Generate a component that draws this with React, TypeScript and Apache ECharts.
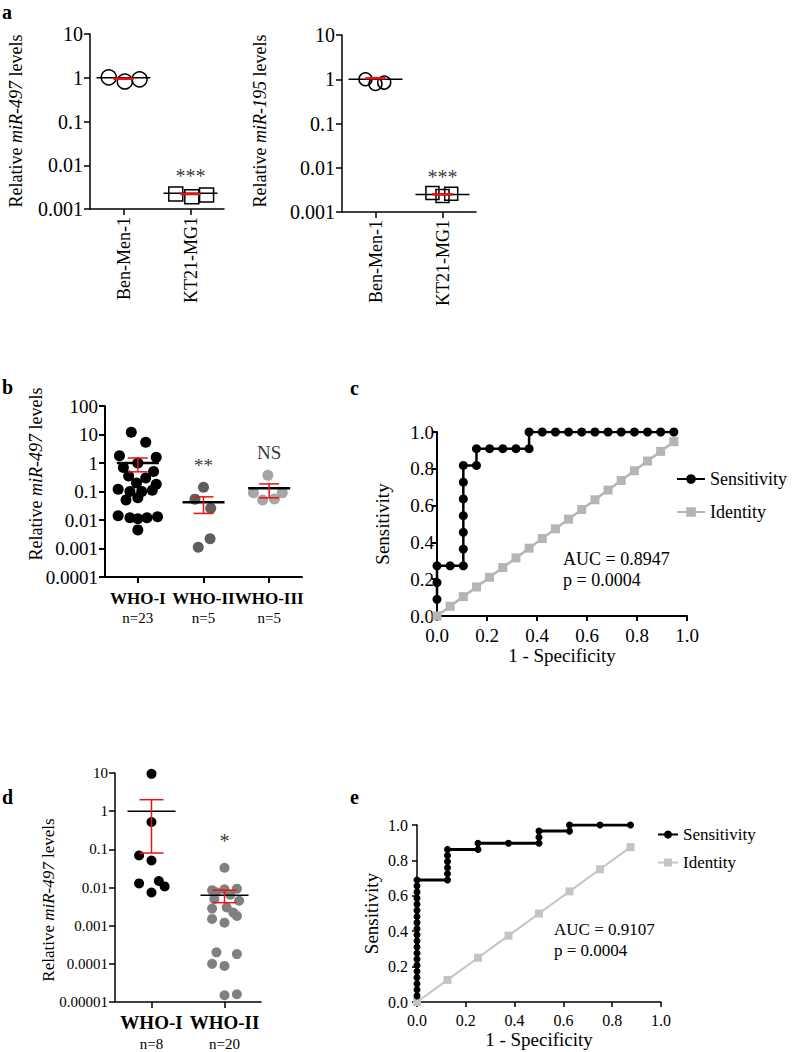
import React, { useEffect, useRef } from 'react';
import * as echarts from 'echarts';

const FONT = "'Liberation Serif', 'Times New Roman', Times, serif";
const RED = '#ee1111';

// ---------------- Panel a ----------------
const aCategories = ['Ben-Men-1', 'KT21-MG1'];
const aYTicks = ['0.001', '0.01', '0.1', '1', '10']; // exponents -3..1
const a497Ben = [1.02, 0.82, 0.92];
const a497KT = [0.0022, 0.0019, 0.0021];
const a497Mean = [1.0, 0.0023];
const a497SemLo = [0.94, 0.00217];
const a497SemHi = [0.96, 0.00222];
const a195Ben = [1.0, 0.78, 0.84];
const a195KT = [0.0027, 0.0023, 0.0026];
const a195Mean = [1.0, 0.0025];
const a195SemLo = [1.04, 0.00245];
const a195SemHi = [1.06, 0.00255];
const a497Jitter = [-0.22, 0.02, 0.24];
const a195Jitter = [-0.15, 0.0, 0.13];
const aMarks = ['', '***'];
const a497MarkAt = [1, 0.0058];
const a195MarkAt = [1, 0.0062];

// ---------------- Panel b ----------------
const bCategories = ['WHO-I', 'WHO-II', 'WHO-III'];
const bCounts = ['n=23', 'n=5', 'n=5'];
const bYTicks = ['0.0001', '0.001', '0.01', '0.1', '1', '10', '100']; // -4..2
const bWho1 = [12, 5.3, 1.8, 1.6, 1.0, 0.7, 0.5, 0.35, 0.3, 0.2, 0.18, 0.12, 0.11, 0.1, 0.1, 0.06, 0.05, 0.014, 0.013, 0.012, 0.012, 0.011, 0.0045];
const bWho1Jitter = [-0.1, 0.12, -0.28, 0.28, 0.0, -0.22, 0.24, -0.14, 0.12, -0.02, 0.28, -0.3, 0.22, -0.12, 0.06, 0.0, -0.18, -0.3, 0.3, -0.12, 0.14, 0.0, 0.0];
const bWho2 = [0.14, 0.054, 0.026, 0.0022, 0.0011];
const bWho2Jitter = [0.0, -0.13, 0.11, 0.1, -0.08];
const bWho3 = [0.37, 0.09, 0.09, 0.05, 0.055];
const bWho3Jitter = [-0.02, -0.24, 0.2, -0.1, 0.08];
const bMean = [1.0, 0.042, 0.13];
const bSemLo = [0.49, 0.017, 0.06];
const bSemHi = [1.5, 0.065, 0.185];
const bMarks = ['', '**', 'NS'];
const bMarkAt = [1, 0.85, 2.3];

// ---------------- Panel c ----------------
const cFpr = [0, 0, 0, 0.0526, 0.1053, 0.1053, 0.1053, 0.1053, 0.1053, 0.1053, 0.1053, 0.1579, 0.1579, 0.2105, 0.2632, 0.3158, 0.3684, 0.3684, 0.4211, 0.4737, 0.5263, 0.5789, 0.6316, 0.6842, 0.7368, 0.7895, 0.8421, 0.8947, 0.9474];
const cTpr = [0.0909, 0.1818, 0.2727, 0.2727, 0.2727, 0.3636, 0.4545, 0.5455, 0.6364, 0.7273, 0.8182, 0.8182, 0.9091, 0.9091, 0.9091, 0.9091, 0.9091, 1, 1, 1, 1, 1, 1, 1, 1, 1, 1, 1, 1];
const cIdentity = [0, 0.0526, 0.1053, 0.1579, 0.2105, 0.2632, 0.3158, 0.3684, 0.4211, 0.4737, 0.5263, 0.5789, 0.6316, 0.6842, 0.7368, 0.7895, 0.8421, 0.8947, 0.9474];
const cStats = ['AUC = 0.8947', 'p = 0.0004'];

// ---------------- Panel d ----------------
const dCategories = ['WHO-I', 'WHO-II'];
const dCounts = ['n=8', 'n=20'];
const dYTicks = ['0.00001', '0.0001', '0.001', '0.01', '0.1', '1', '10']; // -5..1
const dWho1 = [9.5, 0.52, 0.069, 0.051, 0.0128, 0.0148, 0.0107, 0.0074];
const dWho1Jitter = [0, 0, -0.17, 0, -0.17, 0.1, 0.18, 0];
const dWho2 = [0.033, 0.0085, 0.009, 0.0093, 0.0075, 0.0065, 0.005, 0.0045, 0.0028, 0.003, 0.0022, 0.0018, 0.0015, 0.0012, 0.0002, 0.00018, 0.0001, 0.000088, 0.000016, 0.000015];
const dWho2Jitter = [0, -0.17, 0, 0.17, -0.11, 0.08, -0.14, 0.2, -0.17, 0.03, 0.12, 0.17, -0.17, 0, -0.11, 0.17, -0.17, 0, 0.17, 0];
const dMean = [1.0, 0.0063];
const dSemLo = [0.08, 0.004];
const dSemHi = [2.0, 0.0085];
const dMarks = ['', '*'];
const dMarkAt = [1, 0.17];

// ---------------- Panel e ----------------
const eFpr = [0, 0, 0, 0, 0, 0, 0, 0, 0, 0, 0, 0, 0, 0, 0, 0, 0, 0, 0, 0, 0.125, 0.125, 0.125, 0.125, 0.125, 0.125, 0.25, 0.25, 0.375, 0.5, 0.5, 0.5, 0.625, 0.625, 0.75, 0.875];
const eTpr = [0.0345, 0.069, 0.1034, 0.1379, 0.1724, 0.2069, 0.2414, 0.2759, 0.3103, 0.3448, 0.3793, 0.4138, 0.4483, 0.4828, 0.5172, 0.5517, 0.5862, 0.6207, 0.6552, 0.6897, 0.6897, 0.7241, 0.7586, 0.7931, 0.8276, 0.8621, 0.8621, 0.8966, 0.8966, 0.8966, 0.931, 0.9655, 0.9655, 1, 1, 1];
const eIdentity = [0, 0.125, 0.25, 0.375, 0.5, 0.625, 0.75, 0.875];
const eStats = ['AUC = 0.9107', 'p = 0.0004'];

// ---------------- helpers ----------------
const black = '#000';

function logLabel(ticks: string[], minExp: number) {
  return (v: number) => {
    const e = Math.round(Math.log10(v));
    return ticks[e - minExp] ?? '';
  };
}

function logYAxis(gridIndex: number, min: number, max: number, ticks: string[], minExp: number, fontSize: number, margin: number, lw: number) {
  return {
    gridIndex,
    type: 'log',
    logBase: 10,
    min,
    max,
    axisLine: { show: true, onZero: false, lineStyle: { color: black, width: lw } },
    axisTick: { show: true, length: 6, lineStyle: { color: black, width: lw } },
    minorTick: { show: false },
    splitLine: { show: false },
    axisLabel: { formatter: logLabel(ticks, minExp), fontFamily: FONT, fontSize, color: black, margin, showMinLabel: true, showMaxLabel: true, hideOverlap: false },
  };
}

// visible category axis: ticks and labels at each group
function catAxis(gridIndex: number, cats: string[], labelCfg: any, lw: number, formatter?: (v: string, i: number) => string) {
  return {
    gridIndex,
    type: 'category',
    data: cats,
    boundaryGap: true,
    axisLine: { show: true, onZero: false, lineStyle: { color: black, width: lw } },
    axisTick: { show: true, alignWithLabel: true, interval: 0, length: 6, lineStyle: { color: black, width: lw } },
    splitLine: { show: false },
    axisLabel: {
      show: true,
      interval: 0,
      hideOverlap: false,
      fontFamily: FONT,
      color: black,
      ...(formatter ? { formatter } : {}),
      ...labelCfg,
    },
  };
}

// hidden value axis in the same grid, used to place jittered marks
function hiddenX(gridIndex: number, n: number) {
  return {
    gridIndex,
    type: 'value',
    min: 0,
    max: n,
    show: false,
    axisLine: { show: false, onZero: false },
    splitLine: { show: false },
  };
}

function points(xi: number, yi: number, center: number, values: number[], jitter: number[], symbol: string, size: number, fill: string, stroke: string, bw: number) {
  return {
    type: 'scatter',
    xAxisIndex: xi,
    yAxisIndex: yi,
    symbol,
    symbolSize: size,
    itemStyle: { color: fill, borderColor: stroke, borderWidth: bw, opacity: 1 },
    data: values.map((v, i) => [center + jitter[i], v]),
    z: 3,
    silent: true,
  };
}

function semBars(xi: number, yi: number, mean: number[], lo: number[], hi: number[], cfg: { meanHalf: number; meanW: number; capHalf: number; errW: number }) {
  return {
    type: 'custom',
    xAxisIndex: xi,
    yAxisIndex: yi,
    z: 5,
    silent: true,
    encode: { x: 0, y: 1 },
    data: mean.map((m, i) => [i + 0.5, m, lo[i], hi[i]]),
    renderItem: (params: any, api: any) => {
      const cx = api.value(0);
      const pm = api.coord([cx, api.value(1)]);
      const pl = api.coord([cx, api.value(2)]);
      const ph = api.coord([cx, api.value(3)]);
      return {
        type: 'group',
        children: [
          { type: 'line', shape: { x1: pm[0] - cfg.meanHalf, y1: pm[1], x2: pm[0] + cfg.meanHalf, y2: pm[1] }, style: { stroke: black, lineWidth: cfg.meanW } },
          { type: 'line', shape: { x1: pl[0], y1: pl[1], x2: ph[0], y2: ph[1] }, style: { stroke: RED, lineWidth: cfg.errW } },
          { type: 'line', shape: { x1: pl[0] - cfg.capHalf, y1: pl[1], x2: pl[0] + cfg.capHalf, y2: pl[1] }, style: { stroke: RED, lineWidth: cfg.errW } },
          { type: 'line', shape: { x1: ph[0] - cfg.capHalf, y1: ph[1], x2: ph[0] + cfg.capHalf, y2: ph[1] }, style: { stroke: RED, lineWidth: cfg.errW } },
        ],
      };
    },
  };
}

function marks(xi: number, yi: number, texts: string[], at: number[], fontSize: number) {
  const data: any[] = [];
  texts.forEach((t, i) => {
    if (t) data.push({ name: t, value: [i + 0.5, at[i]] });
  });
  return {
    type: 'scatter',
    xAxisIndex: xi,
    yAxisIndex: yi,
    symbolSize: 1,
    itemStyle: { color: 'rgba(0,0,0,0)' },
    silent: true,
    z: 6,
    label: { show: true, position: 'inside', formatter: '{b}', fontFamily: FONT, fontSize, color: black },
    data,
  };
}

function rocAxes(gridIndex: number, fontSize: number, xMargin: number, yMargin: number, lw: number, xName: string, xNameGap: number, yNameGap: number, nameSize: number) {
  const common = {
    gridIndex,
    type: 'value',
    min: 0,
    max: 1,
    interval: 0.2,
    splitLine: { show: false },
    axisLine: { show: true, onZero: false, lineStyle: { color: black, width: lw } },
    axisTick: { show: true, length: 5, lineStyle: { color: black, width: lw } },
  };
  return {
    x: {
      ...common,
      name: xName,
      nameLocation: 'middle',
      nameGap: xNameGap,
      nameTextStyle: { fontFamily: FONT, fontSize: nameSize, color: black },
      axisLabel: { formatter: (v: number) => v.toFixed(1), fontFamily: FONT, fontSize, color: black, margin: xMargin },
    },
    y: {
      ...common,
      name: 'Sensitivity',
      nameLocation: 'middle',
      nameGap: yNameGap,
      nameTextStyle: { fontFamily: FONT, fontSize: nameSize, color: black },
      axisLabel: { formatter: (v: number) => v.toFixed(1), fontFamily: FONT, fontSize, color: black, margin: yMargin },
    },
  };
}

function yTitle(x: number, y: number, gene: string, size: number) {
  return {
    type: 'text',
    x,
    y,
    rotation: Math.PI / 2,
    silent: true,
    style: {
      text: 'Relative {i|' + gene + '} levels',
      fontFamily: FONT,
      fontSize: size,
      fill: black,
      align: 'center',
      verticalAlign: 'middle',
      rich: { i: { fontStyle: 'italic', fontFamily: FONT, fontSize: size, fill: black } },
    },
  };
}

function plainText(x: number, y: number, text: string, size: number, bold = false, align = 'left') {
  return {
    type: 'text',
    x,
    y,
    silent: true,
    style: { text, fontFamily: FONT, fontSize: size, fontWeight: bold ? 'bold' : 'normal', fill: black, align, verticalAlign: 'middle' },
  };
}

export default function App() {
  const ref = useRef<HTMLDivElement>(null);

  useEffect(() => {
    if (!ref.current) return;
    const chart = echarts.init(ref.current, undefined, { renderer: 'svg' });

    const rocC = rocAxes(3, 19, 10, 3, 2, '1 - Specificity', 28, 45, 19);
    const rocE = rocAxes(5, 16, 10, 9, 1.5, '1 - Specificity', 28, 36, 19);

    const whoFmt = (counts: string[]) => (v: string, i: number) => '{w|' + v + '}\n{n|' + counts[i] + '}';

    // x axis indices: 0..5 visible axes per grid, 6..9 hidden value axes for marks
    const option: any = {
      animation: false,
      backgroundColor: '#ffffff',
      grid: [
        { left: 90, top: 34, width: 134, height: 175, outerBoundsMode: 'none' },
        { left: 342, top: 35, width: 134, height: 177, outerBoundsMode: 'none' },
        { left: 105, top: 406, width: 197, height: 171, outerBoundsMode: 'none' },
        { left: 437, top: 432, width: 250, height: 184, outerBoundsMode: 'none' },
        { left: 115, top: 773, width: 146, height: 229, outerBoundsMode: 'none' },
        { left: 417, top: 825, width: 244, height: 177, outerBoundsMode: 'none' },
      ],
      xAxis: [
        catAxis(0, aCategories, { rotate: 90, fontSize: 18, margin: 8 }, 1.5),
        catAxis(1, aCategories, { rotate: 90, fontSize: 18, margin: 8 }, 1.5),
        catAxis(2, bCategories, {
          margin: 12,
          rich: {
            w: { fontFamily: FONT, fontWeight: 'bold', fontSize: 17, lineHeight: 19, color: black },
            n: { fontFamily: FONT, fontSize: 15, lineHeight: 19, color: black },
          },
        }, 2, whoFmt(bCounts)),
        rocC.x,
        catAxis(4, dCategories, {
          margin: 10,
          rich: {
            w: { fontFamily: FONT, fontWeight: 'bold', fontSize: 19, lineHeight: 21, color: black },
            n: { fontFamily: FONT, fontSize: 15, lineHeight: 21, color: black },
          },
        }, 1.5, whoFmt(dCounts)),
        rocE.x,
        hiddenX(0, 2),
        hiddenX(1, 2),
        hiddenX(2, 3),
        hiddenX(4, 2),
      ],
      yAxis: [
        logYAxis(0, 0.001, 10, aYTicks, -3, 20, 7, 1.5),
        logYAxis(1, 0.001, 10, aYTicks, -3, 20, 7, 1.5),
        logYAxis(2, 0.0001, 100, bYTicks, -4, 19, 7, 2),
        rocC.y,
        logYAxis(4, 0.00001, 10, dYTicks, -5, 15, 7, 1.5),
        rocE.y,
      ],
      legend: [
        {
          left: 671,
          top: 465,
          orient: 'vertical',
          itemWidth: 28,
          itemHeight: 12,
          itemGap: 15,
          data: ['Sensitivity', 'Identity'],
          textStyle: { fontFamily: FONT, fontSize: 18, color: black },
          selectedMode: false,
        },
        {
          left: 652,
          top: 821,
          orient: 'vertical',
          itemWidth: 20,
          itemHeight: 10,
          itemGap: 11,
          data: ['Sensitivity (e)', 'Identity (e)'],
          formatter: (n: string) => n.replace(' (e)', ''),
          textStyle: { fontFamily: FONT, fontSize: 17, color: black },
          selectedMode: false,
        },
      ],
      series: [
        // panel a, miR-497
        points(6, 0, 0.5, a497Ben, a497Jitter, 'circle', 15, 'rgba(255,255,255,0)', black, 1.5),
        points(6, 0, 1.5, a497KT, a497Jitter, 'rect', 14, 'rgba(255,255,255,0)', black, 1.5),
        semBars(6, 0, a497Mean, a497SemLo, a497SemHi, { meanHalf: 27, meanW: 1.5, capHalf: 10, errW: 2 }),
        marks(6, 0, aMarks, a497MarkAt, 20),
        // panel a, miR-195
        points(7, 1, 0.5, a195Ben, a195Jitter, 'circle', 13, 'rgba(255,255,255,0)', black, 1.5),
        points(7, 1, 1.5, a195KT, a195Jitter, 'rect', 13, 'rgba(255,255,255,0)', black, 1.5),
        semBars(7, 1, a195Mean, a195SemLo, a195SemHi, { meanHalf: 27, meanW: 1.5, capHalf: 10, errW: 2 }),
        marks(7, 1, aMarks, a195MarkAt, 20),
        // panel b
        points(8, 2, 0.5, bWho1, bWho1Jitter, 'circle', 11, '#000000', '#000000', 0),
        points(8, 2, 1.5, bWho2, bWho2Jitter, 'circle', 11, '#5e5e5e', '#5e5e5e', 0),
        points(8, 2, 2.5, bWho3, bWho3Jitter, 'circle', 11, '#a6a6a6', '#a6a6a6', 0),
        semBars(8, 2, bMean, bSemLo, bSemHi, { meanHalf: 21, meanW: 2.5, capHalf: 10, errW: 1.5 }),
        marks(8, 2, bMarks, bMarkAt, 19),
        // panel c
        {
          name: 'Identity',
          type: 'line',
          xAxisIndex: 3,
          yAxisIndex: 3,
          symbol: 'rect',
          symbolSize: 9,
          color: '#b5b5b5',
          lineStyle: { color: '#b5b5b5', width: 2.5 },
          itemStyle: { color: '#b5b5b5' },
          data: cIdentity.map((v) => [v, v]),
          silent: true,
        },
        {
          name: 'Sensitivity',
          type: 'line',
          xAxisIndex: 3,
          yAxisIndex: 3,
          symbol: 'circle',
          symbolSize: 9,
          color: '#000',
          lineStyle: { color: '#000', width: 2.5 },
          itemStyle: { color: '#000' },
          data: cFpr.map((x, i) => [x, cTpr[i]]),
          silent: true,
          z: 4,
        },
        // panel d
        points(9, 4, 0.5, dWho1, dWho1Jitter, 'circle', 10, '#000000', '#000000', 0),
        points(9, 4, 1.5, dWho2, dWho2Jitter, 'circle', 10, '#808080', '#808080', 0),
        semBars(9, 4, dMean, dSemLo, dSemHi, { meanHalf: 24, meanW: 1.5, capHalf: 12, errW: 1.5 }),
        marks(9, 4, dMarks, dMarkAt, 20),
        // panel e
        {
          name: 'Identity (e)',
          type: 'line',
          xAxisIndex: 5,
          yAxisIndex: 5,
          symbol: 'rect',
          symbolSize: 8,
          color: '#c4c4c4',
          lineStyle: { color: '#c4c4c4', width: 2 },
          itemStyle: { color: '#c4c4c4' },
          data: eIdentity.map((v) => [v, v]),
          silent: true,
        },
        {
          name: 'Sensitivity (e)',
          type: 'line',
          xAxisIndex: 5,
          yAxisIndex: 5,
          symbol: 'circle',
          symbolSize: 7,
          color: '#000',
          lineStyle: { color: '#000', width: 3 },
          itemStyle: { color: '#000' },
          data: eFpr.map((x, i) => [x, eTpr[i]]),
          silent: true,
          z: 4,
        },
      ],
      graphic: [
        plainText(2, 12, 'a', 20, true),
        plainText(2, 387, 'b', 20, true),
        plainText(350, 388, 'c', 20, true),
        plainText(2, 797, 'd', 20, true),
        plainText(350, 797, 'e', 20, true),
        yTitle(16, 121, 'miR-497', 18),
        yTitle(260, 121, 'miR-195', 18),
        yTitle(36, 474, 'miR-497', 18),
        yTitle(48, 900, 'miR-497', 17),
        plainText(563, 559, cStats[0], 18),
        plainText(563, 580, cStats[1], 18),
        plainText(554, 929, eStats[0], 17),
        plainText(554, 950, eStats[1], 17),
      ],
    };

    chart.setOption(option);
    return () => chart.dispose();
  }, []);

  return <div ref={ref} style={{ position: 'absolute', left: 0, top: 0, width: 796, height: 1052, background: '#fff' }} />;
}
